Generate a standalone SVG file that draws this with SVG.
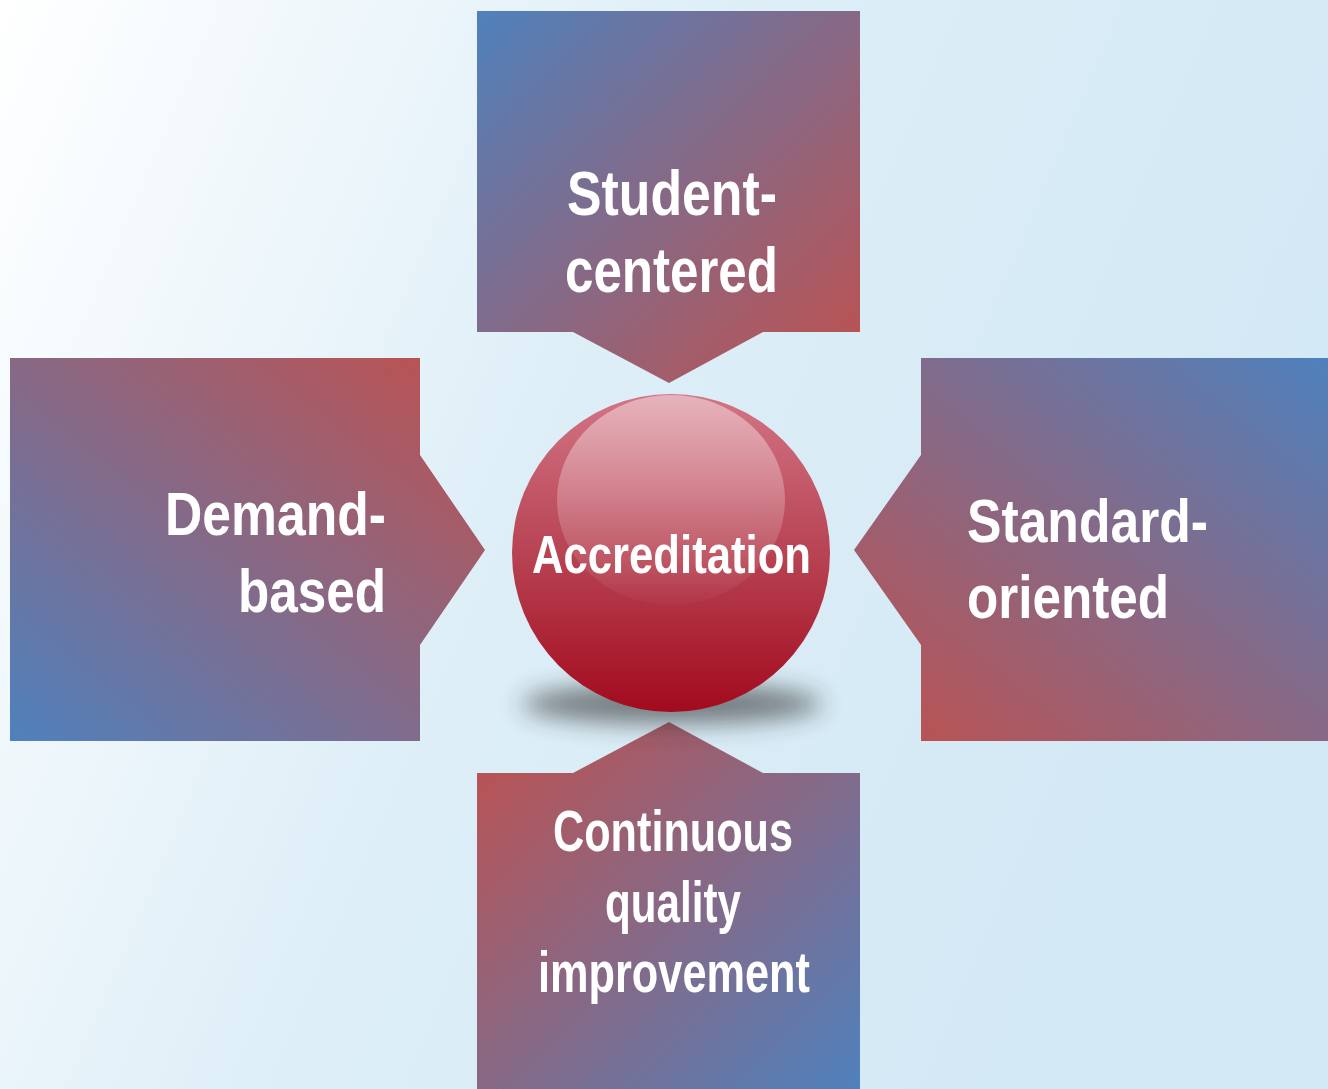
<svg xmlns="http://www.w3.org/2000/svg" width="1328" height="1089" viewBox="0 0 1328 1089">
<defs>
<linearGradient id="bg" x1="0" y1="0" x2="1" y2="0.35">
<stop offset="0" stop-color="#ffffff"/>
<stop offset="0.5" stop-color="#ddeef7"/>
<stop offset="1" stop-color="#d3e9f5"/>
</linearGradient>
<linearGradient id="gTop" x1="0" y1="0" x2="1" y2="1">
<stop offset="0" stop-color="#4f81bd"/>
<stop offset="1" stop-color="#c0504d"/>
</linearGradient>
<linearGradient id="gLeft" x1="0" y1="1" x2="1" y2="0">
<stop offset="0" stop-color="#4f81bd"/>
<stop offset="1" stop-color="#c0504d"/>
</linearGradient>
<linearGradient id="gRight" x1="1" y1="0" x2="0" y2="1">
<stop offset="0" stop-color="#4f81bd"/>
<stop offset="1" stop-color="#c0504d"/>
</linearGradient>
<linearGradient id="gBottom" x1="1" y1="1" x2="0" y2="0">
<stop offset="0" stop-color="#4f81bd"/>
<stop offset="1" stop-color="#c0504d"/>
</linearGradient>
<linearGradient id="sphere" x1="0" y1="0" x2="0" y2="1">
<stop offset="0" stop-color="#d27585"/>
<stop offset="0.55" stop-color="#b53e4e"/>
<stop offset="1" stop-color="#a30a1e"/>
</linearGradient>
<linearGradient id="hl" x1="0" y1="0" x2="0" y2="1">
<stop offset="0" stop-color="#ffffff" stop-opacity="0.45"/>
<stop offset="1" stop-color="#ffffff" stop-opacity="0.02"/>
</linearGradient>
<filter id="blur" x="-30%" y="-150%" width="160%" height="400%">
<feGaussianBlur stdDeviation="12"/>
</filter>
<style>
.lbl{font-family:"Liberation Sans",Arial,sans-serif;font-weight:bold;fill:#ffffff;}
</style>
</defs>
<rect width="1328" height="1089" fill="url(#bg)"/>

<g id="node-student-centered">
<path d="M477 11 H860 V332 H763 L669 383 L573 332 H477 Z" fill="url(#gTop)"/>
<text class="lbl" font-size="63" x="567" y="215" textLength="210" lengthAdjust="spacingAndGlyphs">Student-</text>
<text class="lbl" font-size="63" x="565" y="292" textLength="213" lengthAdjust="spacingAndGlyphs">centered</text>
</g>

<g id="node-demand-based">
<path d="M10 358 H420 V455 L485 550 L420 645 V741 H10 Z" fill="url(#gLeft)"/>
<text class="lbl" font-size="62" x="165" y="535" textLength="221" lengthAdjust="spacingAndGlyphs">Demand-</text>
<text class="lbl" font-size="62" x="238" y="612" textLength="148" lengthAdjust="spacingAndGlyphs">based</text>
</g>

<g id="node-standard-oriented">
<path d="M921 358 H1328 V741 H921 V645 L854 550 L921 455 Z" fill="url(#gRight)"/>
<text class="lbl" font-size="62" x="967" y="542" textLength="241" lengthAdjust="spacingAndGlyphs">Standard-</text>
<text class="lbl" font-size="62" x="967" y="618" textLength="202" lengthAdjust="spacingAndGlyphs">oriented</text>
</g>

<g id="node-continuous">
<path d="M477 1089 V773 H573 L669 722 L763 773 H860 V1089 Z" fill="url(#gBottom)"/>
<text class="lbl" font-size="57" x="553" y="851" textLength="240" lengthAdjust="spacingAndGlyphs">Continuous</text>
<text class="lbl" font-size="57" x="605" y="922" textLength="136" lengthAdjust="spacingAndGlyphs">quality</text>
<text class="lbl" font-size="57" x="538" y="992" textLength="272" lengthAdjust="spacingAndGlyphs">improvement</text>
</g>

<g id="node-accreditation">
<ellipse cx="672" cy="704" rx="150" ry="20" fill="#2e2e2e" opacity="0.6" filter="url(#blur)"/>
<circle cx="671" cy="553" r="159" fill="url(#sphere)"/>
<ellipse cx="671" cy="500" rx="114" ry="105" fill="url(#hl)"/>
<text class="lbl" font-size="53" x="532" y="573" textLength="279" lengthAdjust="spacingAndGlyphs">Accreditation</text>
</g>

<g id="connectors"/>
</svg>
